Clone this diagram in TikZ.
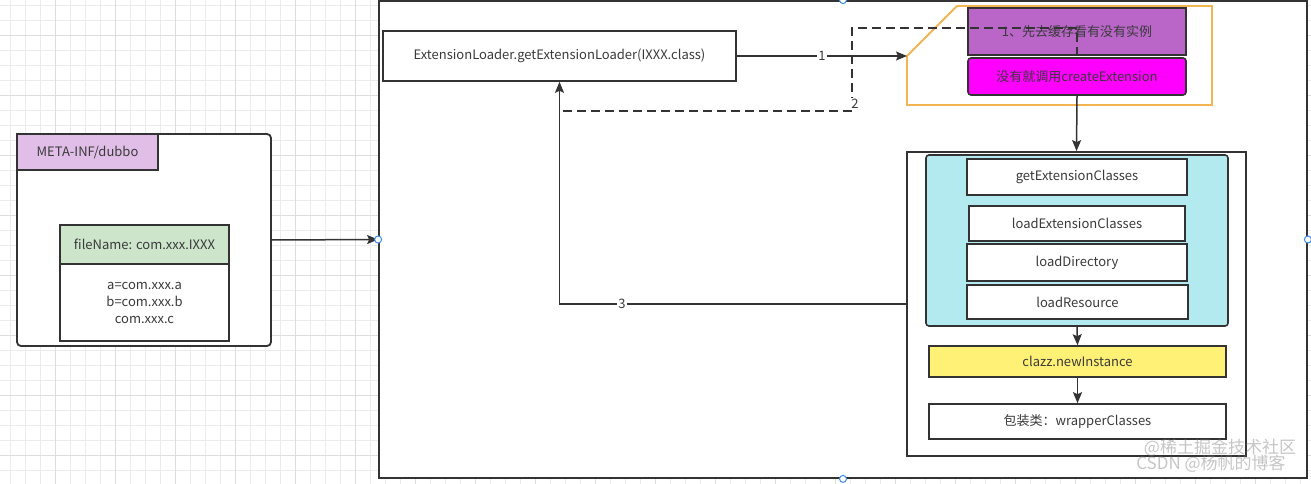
\documentclass[tikz,border=0pt]{standalone}
\usepackage{fontspec}
\setmainfont{Noto Sans CJK SC}
\usetikzlibrary{arrows.meta,positioning}
\definecolor{dkline}{HTML}{333333}
\definecolor{dktext}{HTML}{3A3A3A}
\definecolor{gridmin}{HTML}{EBEBEB}
\definecolor{gridmaj}{HTML}{DDDDDD}
\definecolor{metapink}{HTML}{E1BEE7}
\definecolor{filegreen}{HTML}{CCE5CB}
\definecolor{cachepurp}{HTML}{B966C8}
\definecolor{createmag}{HTML}{FF00FF}
\definecolor{loadcyan}{HTML}{B2EAEF}
\definecolor{instyel}{HTML}{FFF176}
\definecolor{cacheorg}{HTML}{F2B552}
\definecolor{hndblue}{HTML}{3D8BEA}
\newcommand{\dgfont}{\fontsize{13}{17}\selectfont}
\tikzset{
  blk/.style  = {rectangle, draw=dkline, line width=1.6pt, fill=white,
                 inner sep=0pt, font=\dgfont, text=dktext, align=center},
  rblk/.style = {blk, rounded corners=3pt},
  frame/.style= {rectangle, draw=dkline, line width=1.8pt, fill=white, inner sep=0pt},
  ed/.style   = {-{Stealth[length=11pt,width=9pt,inset=2pt]}, draw=dkline, line width=1.5pt},
  dsh/.style  = {draw=dkline, line width=1.5pt, dash pattern=on 9pt off 5pt},
  lbl/.style  = {font=\dgfont, text=dktext, fill=white, inner sep=1pt},
  hnd/.style  = {circle, draw=hndblue, fill=white, line width=1pt,
                 minimum size=7pt, inner sep=0pt},
  gridln/.style = {draw=gridmin, line width=0.7pt},
  gridmj/.style = {draw=gridmaj, line width=0.8pt},
  wmark/.style  = {font=\fontsize{17}{17}\selectfont, text=gray, opacity=0.45, inner sep=0pt},
}

\begin{document}
\begin{tikzpicture}[x=1pt,y=-1pt]
  \useasboundingbox (0,0) rectangle (1311,484);
  % background grid
  \foreach \gx in {10,25,...,1300} \draw[gridln] (\gx,0) -- (\gx,484);
  \foreach \gy in {5,20,...,470} \draw[gridln] (0,\gy) -- (1311,\gy);
  \foreach \gx in {55,115,...,1300} \draw[gridmj] (\gx,0) -- (\gx,484);
  \foreach \gy in {35,95,...,470} \draw[gridmj] (0,\gy) -- (1311,\gy);

  % containers
  \node[frame, minimum width=928, minimum height=477] (outer) at (843,239.5) {};
  \node[frame, rounded corners=4pt, minimum width=254, minimum height=212] (src) at (144,240) {};
  \node[blk, fill=metapink, minimum width=141, minimum height=36] (meta) at (87.5,152) {META-INF/dubbo};
  \node[blk, fill=filegreen, minimum width=169, minimum height=39] (fname) at (144.5,244.5) {fileName: com.xxx.IXXX};
  \node[blk, minimum width=169, minimum height=77] (fbody) at (144.5,302.5) {a=com.xxx.a\\b=com.xxx.b\\com.xxx.c};

  \node[blk, minimum width=353, minimum height=50] (loader) at (559.5,56) {ExtensionLoader.getExtensionLoader(IXXX.class)};

  % cache check group
  \draw[cacheorg, line width=1.8pt] (907,56) -- (957,6) -- (1212,6) -- (1212,105) -- (907,105) -- cycle;
  \coordinate (grp) at (907,56);
  \node[blk, fill=cachepurp, minimum width=218, minimum height=47] (cache) at (1077,31.5) {1、先去缓存看有没有实例};
  \node[rblk, fill=createmag, minimum width=218, minimum height=37] (create) at (1077,76.5) {没有就调用createExtension};

  % createExtension steps
  \node[frame, minimum width=339, minimum height=304] (inner) at (1076.5,304) {};
  \node[rblk, fill=loadcyan, minimum width=302, minimum height=171] (load) at (1077,240.5) {};
  \node[blk, minimum width=220, minimum height=36] (getec) at (1077,177) {getExtensionClasses};
  \node[blk, minimum width=216, minimum height=35] (loadec) at (1077,223.5) {loadExtensionClasses};
  \node[blk, minimum width=220, minimum height=37] (loaddir) at (1077,262.5) {loadDirectory};
  \node[blk, minimum width=221, minimum height=34] (loadres) at (1077.5,302) {loadResource};
  \node[blk, fill=instyel, minimum width=297, minimum height=31] (newinst) at (1077.5,361.5) {clazz.newInstance};
  \node[blk, minimum width=297, minimum height=35] (wrap) at (1077.5,421.5) {包装类：wrapperClasses};

  % connectors
  \draw[ed] (src.east) -- (outer.west);
  \draw[ed] (loader.east) -- node[lbl]{1} (grp);
  \coordinate (d1) at (852,28);
  \coordinate (d2) at (852,111);
  \draw[dsh] (cache.south) |- (d1) -- (d2) -| (loader.south);
  \node[lbl] at (855,104) {2};
  \draw[ed] (inner.west) -| node[lbl, pos=0.41]{3} (loader.south);
  \draw[ed] (create.south) -- (inner.north);
  \draw[ed] (load.south) -- (newinst.north);
  \draw[ed] (newinst.south) -- (wrap.north);

  % selection handles
  \foreach \hs in {west,east,north,south} \node[hnd] at (outer.\hs) {};

  % watermark
  \node[wmark] (wm1) at (1220,448) {@稀土掘金技术社区};
  \node[wmark] (wm2) at (1211,464) {CSDN @杨帆的博客};
\end{tikzpicture}
\end{document}
